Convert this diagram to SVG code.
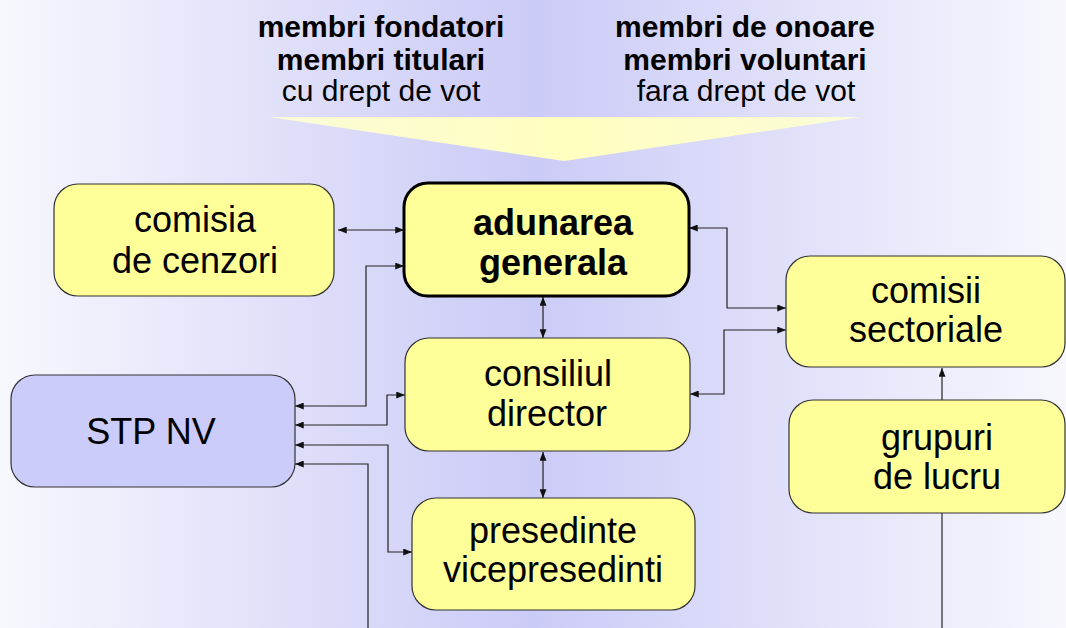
<svg xmlns="http://www.w3.org/2000/svg" width="1066" height="628" viewBox="0 0 1066 628">
<defs>
<linearGradient id="bg" x1="0" y1="0" x2="1" y2="0">
<stop offset="0" stop-color="#f7f7fd"/>
<stop offset="0.5" stop-color="#cbcbf7"/>
<stop offset="1" stop-color="#f7f7fd"/>
</linearGradient>
<linearGradient id="fun" x1="0" y1="0" x2="1" y2="0">
<stop offset="0" stop-color="#fbfbd8"/>
<stop offset="0.5" stop-color="#ffffc0"/>
<stop offset="1" stop-color="#fbfbd8"/>
</linearGradient>
<marker id="ah" viewBox="0 0 10 8" refX="10" refY="4" markerWidth="9" markerHeight="7" markerUnits="userSpaceOnUse" orient="auto-start-reverse">
<path d="M0,0 L10,4 L0,8 Z" fill="#111"/>
</marker>
<style>
.box{fill:#ffff99;stroke:#333;stroke-width:1.2}
.stp{fill:#ccccfa;stroke:#333;stroke-width:1.2}
.main{fill:#ffff99;stroke:#000;stroke-width:3}
.t{font-family:"Liberation Sans",Arial,sans-serif;font-size:36px;fill:#000;text-anchor:middle}
.b{font-weight:bold}
.h{font-family:"Liberation Sans",Arial,sans-serif;font-size:30px;fill:#000;text-anchor:middle}
.c{fill:none;stroke:#222;stroke-width:1.2}
.two{marker-start:url(#ah);marker-end:url(#ah)}
.one{marker-end:url(#ah)}
</style>
</defs>
<rect x="0" y="0" width="1066" height="628" fill="url(#bg)"/>
<g id="header">
<text class="h b" x="381" y="37">membri fondatori</text>
<text class="h b" x="381" y="70">membri titulari</text>
<text class="h" x="381" y="101">cu drept de vot</text>
<text class="h b" x="745" y="37">membri de onoare</text>
<text class="h b" x="745" y="70">membri voluntari</text>
<text class="h" x="746" y="101">fara drept de vot</text>
<polygon points="269,117 861,117 564,161" fill="url(#fun)"/>
</g>
<g id="connectors">
<path class="c two" d="M338,230 H404"/>
<path class="c two" d="M295,406 H366 V266 H404"/>
<path class="c two" d="M295,425 H387 V395 H405"/>
<path class="c two" d="M295,445 H388 V552 H412"/>
<path class="c one" d="M368,628 V464 H295"/>
<path class="c two" d="M543,297 V338"/>
<path class="c two" d="M543,452 V498"/>
<path class="c two" d="M689,228 H727 V308 H786"/>
<path class="c two" d="M786,330 H724 V394 H690"/>
<path class="c one" d="M942,400 V368"/>
<path class="c" d="M942,628 V513"/>
</g>
<g id="comisia">
<rect class="box" x="54" y="184" width="280" height="112" rx="24"/>
<text class="t" x="195" y="232">comisia</text>
<text class="t" x="195" y="273">de cenzori</text>
</g>
<g id="adunarea">
<rect class="main" x="404" y="183" width="285" height="113" rx="24"/>
<text class="t b" x="553" y="235">adunarea</text>
<text class="t b" x="553" y="275">generala</text>
</g>
<g id="comisii">
<rect class="box" x="786" y="256" width="279" height="111" rx="24"/>
<text class="t" x="926" y="303">comisii</text>
<text class="t" x="926" y="342">sectoriale</text>
</g>
<g id="consiliul">
<rect class="box" x="405" y="338" width="285" height="113" rx="24"/>
<text class="t" x="548" y="386">consiliul</text>
<text class="t" x="547" y="426">director</text>
</g>
<g id="stp">
<rect class="stp" x="11" y="375" width="284" height="112" rx="24"/>
<text class="t" x="151" y="444">STP NV</text>
</g>
<g id="grupuri">
<rect class="box" x="789" y="400" width="276" height="113" rx="24"/>
<text class="t" x="937" y="450">grupuri</text>
<text class="t" x="937" y="489">de lucru</text>
</g>
<g id="presedinte">
<rect class="box" x="412" y="498" width="283" height="112" rx="24"/>
<text class="t" x="553" y="543">presedinte</text>
<text class="t" x="553" y="582">vicepresedinti</text>
</g>
</svg>
